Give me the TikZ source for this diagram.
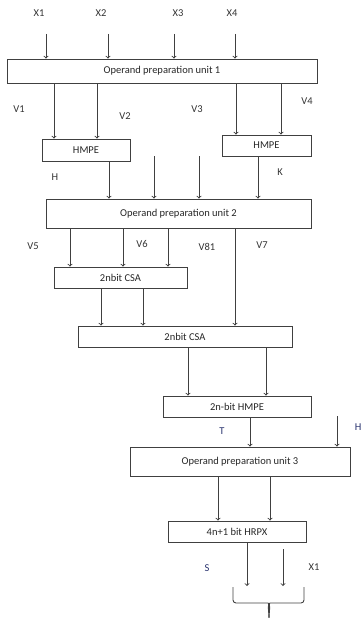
\documentclass[tikz,border=0pt]{standalone}
\usepackage{fontspec}
\setmainfont{Carlito}
\usepackage{tikz}
\usetikzlibrary{arrows, positioning}
\definecolor{linegray}{RGB}{64,64,64}
\definecolor{labblue}{RGB}{40,50,110}

\begin{document}
\begin{tikzpicture}[x=1pt,y=-1pt]
 \tikzstyle{unitbox}=[rectangle,draw=linegray,line width=0.9pt,
   inner sep=1pt,text=black!85,font=\fontsize{10.5}{12}\selectfont]
 \tikzstyle{sig}=[text=black!80,inner sep=0pt,font=\fontsize{10.5}{12}\selectfont]
 \tikzstyle{flow}=[->,>=to,draw=linegray,line width=0.9pt]
 \useasboundingbox (0,0) rectangle (362,618);
 % boxes
 \node (ou1) [unitbox,minimum width=310pt,minimum height=24pt] at (162,71)
   {Operand preparation unit 1};
 \node (hmpeL) [unitbox,minimum width=88pt,minimum height=22pt] at (86,150) {HMPE};
 \node (hmpeR) [unitbox,minimum width=89pt,minimum height=21pt] at (266.5,145.5) {HMPE};
 \node (ou2) [unitbox,minimum width=265pt,minimum height=29pt] at (178.5,213.5)
   {Operand preparation unit 2};
 \node (csaA) [unitbox,minimum width=133pt,minimum height=21pt] at (120.5,277.5) {2nbit CSA};
 \node (csaB) [unitbox,minimum width=214pt,minimum height=21pt] at (185,336.5) {2nbit CSA};
 \node (hmpe2) [unitbox,minimum width=148pt,minimum height=21pt] at (237,406.5) {2n-bit HMPE};
 \node (ou3) [unitbox,minimum width=220pt,minimum height=29pt] at (240,461.5)
   {Operand preparation unit 3};
 \node (hrpx) [unitbox,minimum width=138pt,minimum height=21pt] at (237,531.5) {4n+1 bit HRPX};
 % signal names
 \node (x1) [sig] at (39,13) {X1};
 \node (x2) [sig] at (101,13) {X2};
 \node (x3) [sig] at (178,13) {X3};
 \node (x4) [sig] at (232,13) {X4};
 \node (v1) [sig] at (19,109) {V1};
 \node (v2) [sig] at (125,116) {V2};
 \node (v3) [sig] at (197,109) {V3};
 \node (v4) [sig] at (307,101) {V4};
 \node (h) [sig] at (55,177) {H};
 \node (k) [sig] at (280,172) {K};
 \node (v5) [sig] at (33,246) {V5};
 \node (v6) [sig] at (142,244) {V6};
 \node (v81) [sig] at (207,247) {V81};
 \node (v7) [sig] at (262,245) {V7};
 \node (t) [sig,text=labblue] at (222,431) {T};
 \node (h2) [sig,text=labblue,anchor=east] at (361.5,427) {H};
 \node (s) [sig,text=labblue] at (207,568) {S};
 \node (x1out) [sig] at (314,567) {X1};
 % free ends
 \coordinate (in1) at (46,34);
 \coordinate (in2) at (108,34);
 \coordinate (in3) at (174,34);
 \coordinate (in4) at (235,34);
 \coordinate (in5) at (154,156);
 \coordinate (in6) at (199,156);
 \coordinate (in7) at (337,416);
 \coordinate (in8) at (283,549);
 \coordinate (out1) at (247,586);
 \coordinate (out2) at (283,586);
 % connectors
 \draw[flow] (in1) -- (in1 |- ou1.north);
 \draw[flow] (in2) -- (in2 |- ou1.north);
 \draw[flow] (in3) -- (in3 |- ou1.north);
 \draw[flow] (in4) -- (in4 |- ou1.north);
 \draw[flow] (54,0 |- ou1.south) -- (54,0 |- hmpeL.north);
 \draw[flow] (97,0 |- ou1.south) -- (97,0 |- hmpeL.north);
 \draw[flow] (236,0 |- ou1.south) -- (236,0 |- hmpeR.north);
 \draw[flow] (281,0 |- ou1.south) -- (281,0 |- hmpeR.north);
 \draw[flow] (109,0 |- hmpeL.south) -- (109,0 |- ou2.north);
 \draw[flow] (in5) -- (in5 |- ou2.north);
 \draw[flow] (in6) -- (in6 |- ou2.north);
 \draw[flow] (258,0 |- hmpeR.south) -- (258,0 |- ou2.north);
 \draw[flow] (70,0 |- ou2.south) -- (70,0 |- csaA.north);
 \draw[flow] (123,0 |- ou2.south) -- (123,0 |- csaA.north);
 \draw[flow] (168,0 |- ou2.south) -- (168,0 |- csaA.north);
 \draw[flow] (235,0 |- ou2.south) -- (235,0 |- csaB.north);
 \draw[flow] (101,0 |- csaA.south) -- (101,0 |- csaB.north);
 \draw[flow] (143,0 |- csaA.south) -- (143,0 |- csaB.north);
 \draw[flow] (188,0 |- csaB.south) -- (188,0 |- hmpe2.north);
 \draw[flow] (266,0 |- csaB.south) -- (266,0 |- hmpe2.north);
 \draw[flow] (250,0 |- hmpe2.south) -- (250,0 |- ou3.north);
 \draw[flow] (in7) -- (in7 |- ou3.north);
 \draw[flow] (218,0 |- ou3.south) -- (218,0 |- hrpx.north);
 \draw[flow] (270,0 |- ou3.south) -- (270,0 |- hrpx.north);
 \draw[flow] (out1 |- hrpx.south) -- (out1);
 \draw[flow] (in8) -- (out2);
 % brace
 \draw[draw=linegray,line width=0.9pt,rounded corners=3pt]
   (233,587) -- (233,603) -- (265,603) to[out=0,in=90] (269,618);
 \draw[draw=linegray,line width=0.9pt,rounded corners=3pt]
   (304,587) -- (304,603) -- (273,603) to[out=180,in=90] (269,618);
\end{tikzpicture}
\end{document}
